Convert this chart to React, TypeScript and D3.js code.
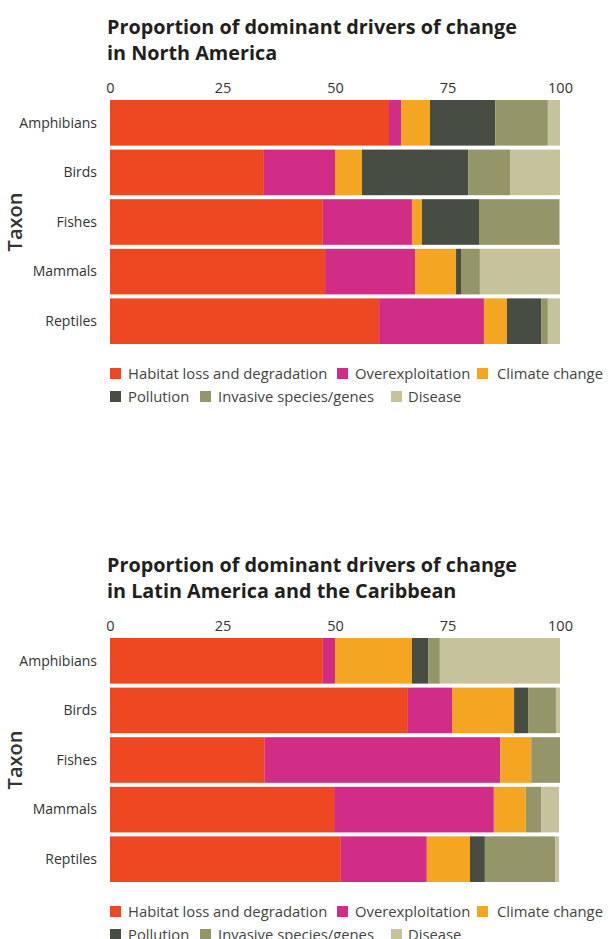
import React, { useEffect, useRef } from 'react'
import * as d3 from 'd3'

const taxa: string[] = ['Amphibians', 'Birds', 'Fishes', 'Mammals', 'Reptiles']
const drivers: string[] = ['Habitat loss and degradation', 'Overexploitation', 'Climate change', 'Pollution', 'Invasive species/genes', 'Disease']
const driverColors: string[] = ['#EE4823', '#D12D86', '#F4A622', '#474D43', '#949669', '#C6C39C']
const xTicks: number[] = [0, 25, 50, 75, 100]

// North America, values per driver in the order of taxa
const naHabitat = [62.0, 34.2, 47.3, 47.8, 59.8]
const naOverexploitation = [2.7, 15.8, 19.8, 20.0, 23.3]
const naClimate = [6.4, 6.0, 2.2, 9.1, 5.1]
const naPollution = [14.5, 23.6, 12.7, 1.1, 7.6]
const naInvasive = [11.7, 9.3, 17.8, 4.2, 1.5]
const naDisease = [2.7, 11.1, 0.2, 17.8, 2.7]

// Latin America and the Caribbean
const laHabitat = [47.3, 66.2, 34.4, 49.8, 51.3]
const laOverexploitation = [2.7, 9.8, 52.3, 35.5, 19.1]
const laClimate = [17.1, 13.8, 6.9, 7.1, 9.6]
const laPollution = [3.6, 3.1, 0, 0, 3.3]
const laInvasive = [2.6, 6.2, 6.4, 3.4, 15.6]
const laDisease = [26.7, 0.9, 0, 4.0, 0.9]

const FONT = '"Open Sans", Lato, sans-serif'

type Panel = { title: string[]; series: number[][]; top: number }

const panels: Panel[] = [
  {
    title: ['Proportion of dominant drivers of change', 'in North America'],
    series: [naHabitat, naOverexploitation, naClimate, naPollution, naInvasive, naDisease],
    top: 0,
  },
  {
    title: ['Proportion of dominant drivers of change', 'in Latin America and the Caribbean'],
    series: [laHabitat, laOverexploitation, laClimate, laPollution, laInvasive, laDisease],
    top: 538,
  },
]

export default function App() {
  const svgRef = useRef<SVGSVGElement | null>(null)
  const width = 608
  const height = 939

  useEffect(() => {
    const svg = d3.select(svgRef.current)
    svg.selectAll('*').remove()

    const x = d3.scaleLinear().domain([0, 100]).range([110, 560])
    const y = d3.scaleBand().domain(taxa).range([100, 344]).paddingInner(0.08)
    const color = d3.scaleOrdinal<string, string>().domain(drivers).range(driverColors)

    panels.forEach((p) => {
      const g = svg.append('g').attr('transform', `translate(0, ${p.top})`)

      // titulo
      g.append('text')
        .attr('x', 108)
        .attr('y', 34)
        .attr('font-family', FONT)
        .attr('font-weight', 700)
        .attr('font-size', 19.8)
        .attr('fill', '#231F20')
        .selectAll('tspan')
        .data(p.title)
        .join('tspan')
        .attr('x', 107)
        .attr('dy', (_, i) => (i === 0 ? 0 : 26))
        .text((d) => d)

      // filas -> tabla para d3.stack
      const rows = taxa.map((t, i) => {
        const r: Record<string, number | string> = { taxon: t }
        drivers.forEach((d, k) => (r[d] = p.series[k][i]))
        return r
      })
      const stacked = d3.stack<any>().keys(drivers)(rows)

      // eje superior
      const axis = g.append('g')
        .attr('transform', 'translate(0, 93)')
        .call(d3.axisTop(x).tickValues(xTicks).tickSize(0).tickPadding(0))
      axis.select('.domain').remove()
      axis.selectAll('text')
        .attr('font-family', FONT)
        .attr('font-size', 14.5)
        .attr('fill', '#333')

      // barras
      g.append('g')
        .selectAll('g')
        .data(stacked)
        .join('g')
        .attr('fill', (s) => color(s.key))
        .selectAll('rect')
        .data((s) => s)
        .join('rect')
        .attr('x', (d) => x(d[0]))
        .attr('y', (d) => y(d.data.taxon as string)!)
        .attr('width', (d) => Math.max(0, x(d[1]) - x(d[0])))
        .attr('height', y.bandwidth())

      // etiquetas de taxon
      g.append('g')
        .selectAll('text')
        .data(taxa)
        .join('text')
        .attr('x', 97)
        .attr('y', (d) => y(d)! + y.bandwidth() / 2)
        .attr('dy', '0.35em')
        .attr('text-anchor', 'end')
        .attr('font-family', FONT)
        .attr('font-size', 14)
        .attr('fill', '#333')
        .text((d) => d)

      g.append('text')
        .attr('transform', `translate(22, ${(y.range()[0] + y.range()[1]) / 2}) rotate(-90)`)
        .attr('text-anchor', 'middle')
        .attr('font-family', FONT)
        .attr('font-weight', 600)
        .attr('font-size', 20)
        .attr('fill', '#333')
        .text('Taxon')

      // leyenda
      const legendPos = [
        [110, 374], [337, 374], [477, 374],
        [110, 397], [200, 397], [391, 397],
      ]
      const lg = g.append('g')
        .selectAll('g')
        .data(drivers)
        .join('g')
        .attr('transform', (_, i) => `translate(${legendPos[i][0]}, ${legendPos[i][1]})`)
      lg.append('rect')
        .attr('x', 0)
        .attr('y', -6)
        .attr('width', 11)
        .attr('height', 11)
        .attr('fill', (d) => color(d))
      lg.append('text')
        .attr('x', (_, i) => (i === 2 ? 20 : i === 5 ? 17 : 18))
        .attr('y', 0)
        .attr('dy', '0.35em')
        .attr('font-family', FONT)
        .attr('font-size', 14.8)
        .attr('fill', '#444')
        .text((d) => d)
    })
  }, [])

  return (
    <svg
      ref={svgRef}
      width={width}
      height={height}
      style={{ position: 'absolute', left: 0, top: 0, background: '#fff' }}
    />
  )
}
